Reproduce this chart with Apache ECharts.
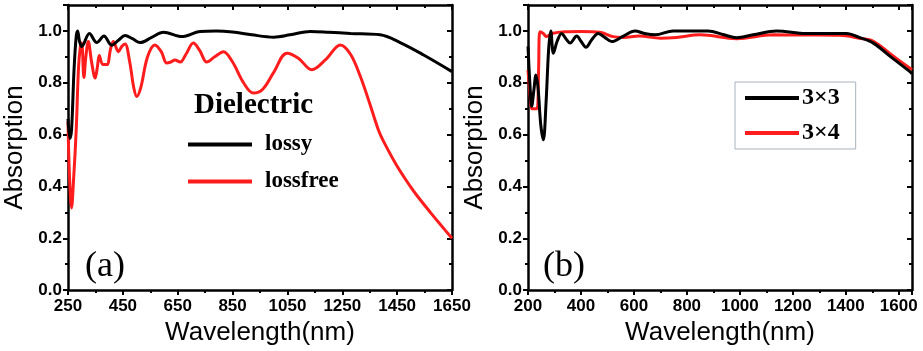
<!DOCTYPE html>
<html>
<head>
<meta charset="utf-8">
<script src="https://cdn.jsdelivr.net/npm/echarts@6/dist/echarts.min.js"></script>
<style>
  html, body { margin: 0; padding: 0; background: #fff; }
  #chart { width: 923px; height: 351px; }
</style>
</head>
<body>
<div id="chart"></div>
<script>
// (a) dielectric lossy / lossfree
var lossyWl = [250, 257, 263, 272, 280, 285, 292, 300, 328, 355, 381, 409, 435, 458, 485, 513, 555, 598, 665, 731, 790, 850, 920, 1000, 1060, 1134, 1200, 1280, 1388, 1461, 1545, 1650];
var lossyAbs = [0.66, 0.585, 0.62, 0.85, 0.98, 1.0, 0.96, 0.94, 0.99, 0.955, 0.98, 0.945, 0.965, 0.982, 0.97, 0.955, 0.975, 0.995, 0.978, 0.998, 1.0, 0.996, 0.985, 0.976, 0.985, 0.998, 0.995, 0.99, 0.985, 0.955, 0.908, 0.843];
var lossfreeWl = [250, 255, 263, 270, 280, 288, 294, 300, 308, 315, 324, 336, 349, 357, 364, 377, 392, 405, 415, 434, 446, 458, 475, 490, 501, 515, 540, 567, 590, 610, 625, 640, 659, 680, 707, 730, 756, 785, 817, 850, 890, 926, 960, 1000, 1048, 1090, 1139, 1190, 1243, 1280, 1316, 1350, 1381, 1400, 1449, 1498, 1522, 1571, 1610, 1650];
var lossfreeAbs = [0.65, 0.45, 0.317, 0.42, 0.62, 0.85, 0.93, 0.953, 0.82, 0.9, 0.959, 0.88, 0.818, 0.86, 0.905, 0.87, 0.87, 0.93, 0.959, 0.92, 0.94, 0.95, 0.88, 0.78, 0.747, 0.78, 0.9, 0.946, 0.92, 0.876, 0.88, 0.888, 0.88, 0.91, 0.953, 0.925, 0.88, 0.9, 0.92, 0.88, 0.8, 0.76, 0.775, 0.84, 0.914, 0.895, 0.85, 0.89, 0.946, 0.91, 0.824, 0.72, 0.62, 0.575, 0.48, 0.4, 0.365, 0.3, 0.25, 0.2];

// (b) 3x3 / 3x4
var arr33Wl = [200, 207, 214, 222, 230, 238, 248, 258, 268, 278, 286, 296, 310, 327, 343, 359, 384, 400, 419, 440, 465, 490, 516, 560, 604, 640, 680, 748, 880, 940, 988, 1050, 1139, 1250, 1320, 1403, 1450, 1504, 1570, 1642, 1650];
var arr33Abs = [0.94, 0.8, 0.709, 0.77, 0.83, 0.78, 0.64, 0.58, 0.72, 0.93, 1.0, 0.914, 0.96, 0.99, 0.97, 0.953, 0.98, 0.96, 0.937, 0.965, 0.99, 0.975, 0.959, 0.98, 1.0, 0.99, 0.985, 1.0, 1.0, 0.985, 0.974, 0.985, 1.0, 0.99, 0.99, 0.99, 0.975, 0.953, 0.9, 0.843, 0.835];
var arr34Wl = [200, 208, 215, 222, 234, 240, 245, 258, 270, 290, 340, 400, 472, 521, 560, 620, 700, 760, 850, 988, 1126, 1250, 1378, 1450, 1504, 1570, 1650];
var arr34Abs = [0.85, 0.75, 0.7, 0.7, 0.7, 0.85, 0.997, 0.99, 0.978, 0.99, 0.997, 0.998, 0.995, 0.978, 0.975, 0.98, 0.972, 0.975, 0.985, 0.97, 0.985, 0.984, 0.983, 0.972, 0.96, 0.91, 0.85];

var yTicks = ["0.0", "0.2", "0.4", "0.6", "0.8", "1.0"];

function pairs(xs, ys) {
  return xs.map(function (x, i) { return [x, ys[i]]; });
}

var labelFont = { fontFamily: "Liberation Sans", fontWeight: "bold", fontSize: 17, color: "#000" };
var nameFont = { fontFamily: "Liberation Sans", fontSize: 26, color: "#000" };
var axisLine = { show: true, onZero: false, lineStyle: { color: "#000", width: 2.5 } };

function xAxes(grid, min, interval) {
  return [
    {
      type: "value", gridIndex: grid, min: min, max: 1650, interval: interval,
      position: "bottom",
      name: "Wavelength(nm)", nameLocation: "middle", nameGap: 26, nameTextStyle: nameFont,
      axisLine: axisLine,
      axisTick: { show: true, inside: false, length: 5, lineStyle: { width: 2 } },
      minorTick: { show: true, splitNumber: 2, length: 3, lineStyle: { color: "#000", width: 2 } },
      axisLabel: Object.assign({
        margin: 8, showMaxLabel: min === 250, showMinLabel: true,
        formatter: function (v) { return String(v); },
      }, labelFont),
      splitLine: { show: false },
    },
    {
      type: "value", gridIndex: grid, min: min, max: 1650, interval: interval,
      position: "top",
      axisLine: axisLine,
      axisTick: { show: true, inside: true, length: 5, lineStyle: { width: 2 } },
      minorTick: { show: true, splitNumber: 2, length: 3, lineStyle: { color: "#000", width: 2 } },
      axisLabel: { show: false },
      splitLine: { show: false },
    },
  ];
}

function yAxes(grid) {
  return [
    {
      type: "value", gridIndex: grid, min: 0, max: 1.1, interval: 0.2,
      position: "left",
      name: "Absorption", nameLocation: "middle", nameGap: 40, nameTextStyle: nameFont,
      axisLine: axisLine,
      axisTick: { show: true, inside: false, length: 5, lineStyle: { width: 2 } },
      minorTick: { show: true, splitNumber: 2, length: 3, lineStyle: { color: "#000", width: 2 } },
      axisLabel: Object.assign({
        margin: 6, showMaxLabel: false,
        formatter: function (v) { return yTicks[Math.round(v / 0.2)] || ""; },
      }, labelFont),
      splitLine: { show: false },
    },
    {
      type: "value", gridIndex: grid, min: 0, max: 1.1, interval: 0.2,
      position: "right",
      axisLine: axisLine,
      axisTick: { show: true, inside: true, length: 5, lineStyle: { width: 2 } },
      minorTick: { show: true, splitNumber: 2, length: 3, lineStyle: { color: "#000", width: 2 } },
      axisLabel: { show: false },
      splitLine: { show: false },
    },
  ];
}

function line(name, xi, yi, data, color, width) {
  return {
    name: name, type: "line", xAxisIndex: xi, yAxisIndex: yi,
    data: data, smooth: 0.35, symbol: "none", showSymbol: false,
    lineStyle: { color: color, width: width }, itemStyle: { color: color },
    clip: true, z: color === "#000000" ? 3 : 2,
  };
}

var chart = echarts.init(document.getElementById("chart"));
chart.setOption({
  animation: false,
  backgroundColor: "#fff",
  grid: [
    { left: 68, right: 471, top: 5, bottom: 60 },
    { left: 528, right: 11, top: 5, bottom: 60 },
  ],
  title: [
    { text: "Dielectric", left: 189, top: 86, textStyle: { fontFamily: "Liberation Serif", fontWeight: "bold", fontSize: 29, color: "#000" } },
    { text: "(a)", left: 80, top: 244, textStyle: { fontFamily: "Liberation Serif", fontWeight: "normal", fontSize: 36, color: "#000" } },
    { text: "(b)", left: 538, top: 244, textStyle: { fontFamily: "Liberation Serif", fontWeight: "normal", fontSize: 36, color: "#000" } },
  ],
  legend: [
    {
      data: ["lossy", "lossfree"], orient: "vertical", left: 183, top: 128,
      icon: "rect", itemWidth: 64, itemHeight: 4, itemGap: 14,
      textStyle: { fontFamily: "Liberation Serif", fontWeight: "bold", fontSize: 23, color: "#000", padding: [0, 0, 0, 8], height: 23, lineHeight: 23 },
    },
    {
      data: ["3×3", "3×4"], orient: "vertical", left: 735, top: 82,
      padding: [4, 16, 4, 10],
      borderColor: "#a9b3bd", borderWidth: 1,
      icon: "rect", itemWidth: 54, itemHeight: 4, itemGap: 11,
      textStyle: { fontFamily: "Liberation Serif", fontWeight: "bold", fontSize: 24, color: "#000", padding: [0, 0, 0, -2], height: 24, lineHeight: 24 },
    },
  ],
  xAxis: xAxes(0, 250, 200).concat(xAxes(1, 200, 200)),
  yAxis: yAxes(0).concat(yAxes(1)),
  series: [
    line("lossfree", 0, 0, pairs(lossfreeWl, lossfreeAbs), "#ff1c1c", 3),
    line("lossy", 0, 0, pairs(lossyWl, lossyAbs), "#000000", 3),
    line("3×4", 2, 2, pairs(arr34Wl, arr34Abs), "#ff1c1c", 3),
    line("3×3", 2, 2, pairs(arr33Wl, arr33Abs), "#000000", 3),
  ],
});
</script>
</body>
</html>
